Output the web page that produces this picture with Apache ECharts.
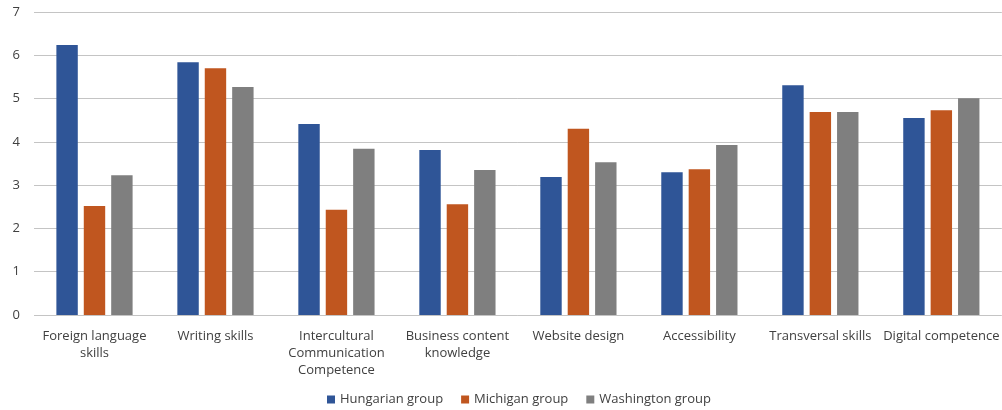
<!DOCTYPE html>
<html>
<head>
<meta charset="utf-8">
<title>Skills by group</title>
<script src="https://cdn.jsdelivr.net/npm/echarts@6/dist/echarts.min.js"></script>
<style>
    html, body { margin: 0; padding: 0; background: #fff; }
    #chart { width: 1002px; height: 410px; }
</style>
</head>
<body>
<div id="chart"></div>
<script>
// categories + values
var categories = [
    'Foreign language\nskills',
    'Writing skills',
    'Intercultural\nCommunication\nCompetence',
    'Business content\nknowledge',
    'Website design',
    'Accessibility',
    'Transversal skills',
    'Digital competence'
];
var hungarian = [6.24, 5.84, 4.41, 3.81, 3.19, 3.30, 5.31, 4.55];
var michigan = [2.52, 5.70, 2.43, 2.56, 4.30, 3.37, 4.69, 4.73];
var washington = [3.23, 5.27, 3.84, 3.35, 3.53, 3.93, 4.69, 5.01];
var yTicks = [0, 1, 2, 3, 4, 5, 6, 7];

(function () {
    var myChart = echarts.init(document.getElementById('chart'));
    var font = '"Open Sans", sans-serif';
    var option = {
        animation: false,
        color: ['#2F5597', '#C0561F', '#7F7F7F'],
        textStyle: { fontFamily: font },
        // legend sits a bit right of centre in the original
        legend: {
            bottom: -1,
            left: 322,
            icon: 'rect',
            itemWidth: 8,
            itemHeight: 8,
            itemGap: 18,
            textStyle: { color: '#404040', fontSize: 13, fontFamily: font }
        },
        grid: {
            top: 12,
            left: 34,
            right: -8,
            bottom: 95
        },
        xAxis: {
            type: 'category',
            data: categories,
            axisLine: { show: false },
            axisTick: { show: false },
            axisLabel: {
                interval: 0,
                color: '#404040',
                fontSize: 13,
                lineHeight: 17,
                margin: 13,
                fontFamily: font
            }
        },
        yAxis: {
            type: 'value',
            min: yTicks[0],
            max: yTicks[yTicks.length - 1],
            interval: 1,
            axisLine: { show: false },
            axisTick: { show: false },
            axisLabel: { color: '#404040', fontSize: 13, margin: 14, fontFamily: font },
            splitLine: { lineStyle: { color: '#c4c4c4', width: 1 } }
        },
        series: [
            { name: 'Hungarian group', type: 'bar', data: hungarian, barGap: '28%', barCategoryGap: '37%' },
            { name: 'Michigan group', type: 'bar', data: michigan },
            { name: 'Washington group', type: 'bar', data: washington }
        ]
    };
    myChart.setOption(option);
    window.addEventListener('resize', function () {
        myChart.resize();
    });
})();
</script>
</body>
</html>
